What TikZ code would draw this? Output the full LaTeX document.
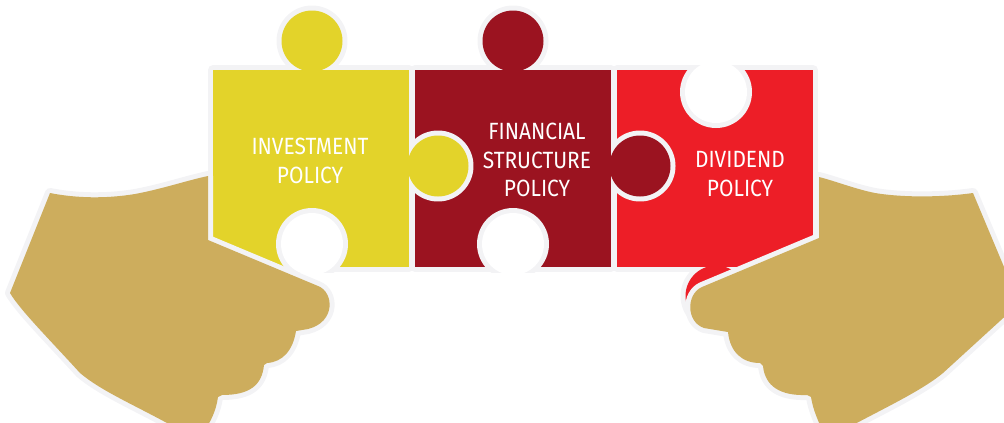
\documentclass[tikz,border=0pt]{standalone}
\usepackage{fontspec}
\newfontfamily\lbl{Fira Sans}[FakeStretch=0.89]
\definecolor{rim}{RGB}{243,243,245}
\definecolor{gold}{RGB}{205,173,93}
\definecolor{mustard}{RGB}{227,211,42}
\definecolor{wine}{RGB}{155,19,32}
\definecolor{scarlet}{RGB}{237,30,39}
\tikzset{
  rimline/.style={draw=rim, line width=10pt, line join=round},
  rimmed/.style={preaction={draw=rim, line width=10pt, line join=round}},
  tag/.style={text=white, align=center, inner sep=0pt,
    font=\lbl\fontsize{23.5}{28.5}\selectfont},
}
\begin{document}
\begin{tikzpicture}[x=1pt,y=-1pt]
\useasboundingbox (0,0) rectangle (1004,423);
\clip (0,0) rectangle (1004,423);

% rims of the three pieces and their outer tabs
\foreach \x in {213,415,617} \draw[rimline] (\x,70) rectangle ++(196,197);
\draw[rimline] (312,41) circle[radius=30.5];
\draw[rimline] (513,41) circle[radius=30.5];
\draw[rimline] (716,296) circle[radius=30.5];

% piece bodies
\fill[mustard] (213,70) rectangle (409,267);
\fill[mustard] (312,41) circle[radius=30.5];
\fill[wine] (415,70) rectangle (611,267);
\fill[wine] (513,41) circle[radius=30.5];
\fill[scarlet] (617,70) rectangle (813,267);
\fill[scarlet] (716,296) circle[radius=30.5];

% side tabs reaching into the neighbouring piece
\draw[rimline] (640,166) circle[radius=30.5];
\fill[wine] (640,166) circle[radius=30.5];
\fill[wine] (415,70) rectangle (611,267);
\draw[rimline] (438,166) circle[radius=30.5];
\fill[mustard] (438,166) circle[radius=30.5];
\fill[mustard] (213,70) rectangle (409,267);

% blank sockets
\begin{scope}
  \clip (208,65) rectangle (414,272);
  \fill[rim] (312,244) circle[radius=36];
  \fill[white] (312,244) circle[radius=31];
\end{scope}
\begin{scope}
  \clip (410,65) rectangle (616,272);
  \fill[rim] (513,244) circle[radius=36];
  \fill[white] (513,244) circle[radius=31];
\end{scope}
\begin{scope}
  \clip (612,65) rectangle (818,272);
  \fill[rim] (716,92) circle[radius=36];
  \fill[white] (716,92) circle[radius=31];
\end{scope}

% captions
\node[tag] (invest) at (310,161) {INVESTMENT\\POLICY};
\node[tag] (finance) at (537,160) {FINANCIAL\\STRUCTURE\\POLICY};
\node[tag] (dividend) at (740,174) {DIVIDEND\\POLICY};

% left hand
\fill[gold, rimmed] (50,193) .. controls (75,198) and (105,199) .. (135,194)
  .. controls (162,189) and (185,181) .. (208,176)
  -- (208,240) -- (318,286)
  .. controls (334,292) and (336,322) .. (308,329)
  -- (296,331)
  .. controls (293,350) and (283,362) .. (267,363)
  -- (264,365)
  .. controls (262,385) and (250,395) .. (222,395)
  -- (218,397)
  .. controls (216,412) and (210,422) .. (205,430)
  -- (190,432) -- (167,423)
  .. controls (130,403) and (100,390) .. (80,373)
  .. controls (50,340) and (20,310) .. (10,293)
  -- cycle;

% right hand
\fill[gold, rimmed] (973,193) .. controls (945,197) and (905,198) .. (875,193)
  .. controls (855,189) and (835,181) .. (819,177)
  -- (819,238) -- (702,287)
  .. controls (686,294) and (686,322) .. (704,328)
  -- (728,332)
  .. controls (730,352) and (742,363) .. (760,363)
  -- (763,366)
  .. controls (765,386) and (780,396) .. (807,395)
  -- (811,397)
  .. controls (813,410) and (818,420) .. (822,430)
  -- (840,432)
  .. controls (880,410) and (920,392) .. (943,373)
  -- (1012,310) -- (1012,286) -- cycle;
\end{tikzpicture}
\end{document}
